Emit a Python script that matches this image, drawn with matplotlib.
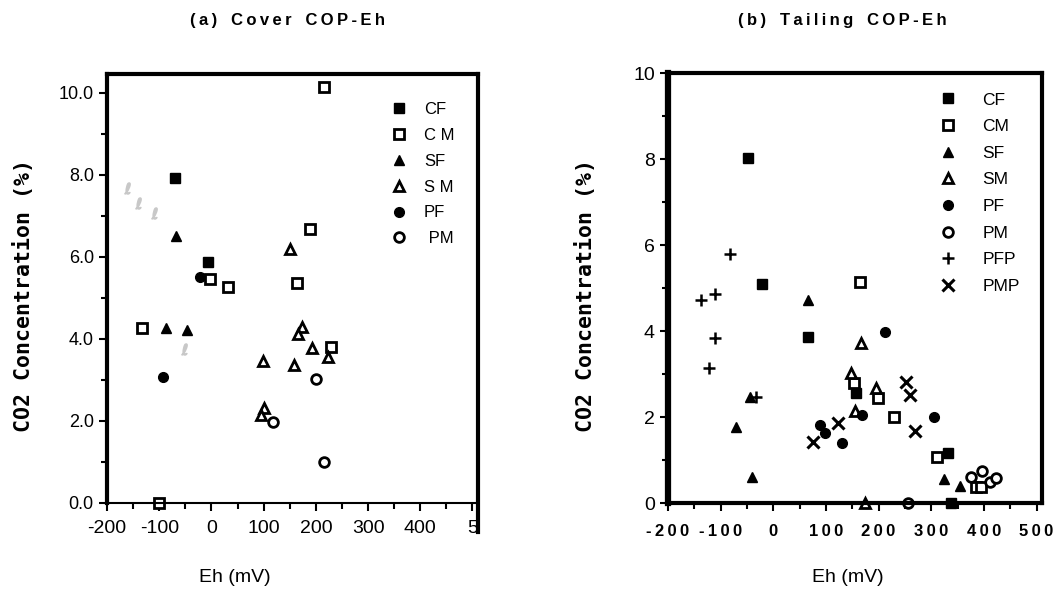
import matplotlib
matplotlib.use("Agg")
import matplotlib.pyplot as plt
from matplotlib.ticker import MultipleLocator, FixedLocator

# ---- panel (a): Cover COP-Eh ----
cf_a_x = [-69, -6]
cf_a_y = [7.93, 5.88]
cm_a_x = [216, 189, -2, 31, 163, -134, 229, -100]
cm_a_y = [10.15, 6.68, 5.46, 5.27, 5.37, 4.27, 3.80, 0.0]
sf_a_x = [-67, -88, -46]
sf_a_y = [6.51, 4.27, 4.22]
sm_a_x = [151, 98, 159, 174, 166, 193, 224, 101, 94]
sm_a_y = [6.20, 3.46, 3.37, 4.29, 4.12, 3.78, 3.56, 2.32, 2.15]
pf_a_x = [-21, -92]
pf_a_y = [5.51, 3.07]
pm_a_x = [201, 117, 216]
pm_a_y = [3.02, 1.98, 1.00]
faint_a_x = [-161, -141, -111, -52]
faint_a_y = [7.68, 7.32, 7.07, 3.76]

# ---- panel (b): Tailing COP-Eh ----
cf_b_x = [-49, -21, 66, 157, 332, 338]
cf_b_y = [8.02, 5.10, 3.86, 2.55, 1.16, 0.0]
cm_b_x = [165, 154, 199, 230, 311, 385, 395]
cm_b_y = [5.14, 2.79, 2.45, 2.00, 1.07, 0.37, 0.37]
sf_b_x = [66, -44, -70, -40, 324, 355]
sf_b_y = [4.72, 2.47, 1.77, 0.60, 0.56, 0.40]
sm_b_x = [167, 148, 195, 155, 175]
sm_b_y = [3.72, 3.02, 2.68, 2.14, 0.0]
pf_b_x = [212, 169, 305, 89, 99, 131]
pf_b_y = [3.98, 2.05, 2.00, 1.81, 1.62, 1.40]
pm_b_x = [376, 397, 412, 423, 256]
pm_b_y = [0.60, 0.74, 0.49, 0.58, 0.0]
pfp_b_x = [-82, -137, -110, -110, -123, -32]
pfp_b_y = [5.79, 4.72, 4.86, 3.84, 3.14, 2.47]
pmp_b_x = [252, 259, 269, 123, 76]
pmp_b_y = [2.82, 2.52, 1.68, 1.86, 1.43]

xticks = [-200, -100, 0, 100, 200, 300, 400, 500]
xlabels_a = ["-200", "-100", "0", "100", "200", "300", "400", "5"]
xlabels_b = ["-200", "-100", "0", "100", "200", "300", "400", "500"]

sans = ["Liberation Sans", "DejaVu Sans"]
mono = ["DejaVu Sans Mono"]
TS = "\u2009"  # thin space used as letter tracking

def tracked(s):
    return TS.join(s)

fig = plt.figure(figsize=(10.62, 5.94), dpi=100)
ax1 = fig.add_axes([0.1008, 0.1532, 0.349, 0.722])
ax2 = fig.add_axes([0.629, 0.153, 0.352, 0.724])

def sq_f(ax, x, y, lab):
    ax.plot(x, y, ls="none", marker="s", ms=7, mfc="black", mec="black", label=lab, clip_on=False)
def sq_o(ax, x, y, lab):
    ax.plot(x, y, ls="none", marker="s", ms=7, mfc="white", mec="black", mew=2, label=lab, clip_on=False)
def tr_f(ax, x, y, lab):
    ax.plot(x, y, ls="none", marker="^", ms=7.5, mfc="black", mec="black", label=lab, clip_on=False)
def tr_o(ax, x, y, lab):
    ax.plot(x, y, ls="none", marker="^", ms=7.5, mfc="white", mec="black", mew=2, label=lab, clip_on=False)
def ci_f(ax, x, y, lab):
    ax.plot(x, y, ls="none", marker="o", ms=7, mfc="black", mec="black", label=lab, clip_on=False)
def ci_o(ax, x, y, lab):
    ax.plot(x, y, ls="none", marker="o", ms=7, mfc="white", mec="black", mew=2, label=lab, clip_on=False)

# panel a
sq_f(ax1, cf_a_x, cf_a_y, "CF")
sq_o(ax1, cm_a_x, cm_a_y, "C M")
tr_f(ax1, sf_a_x, sf_a_y, "SF")
tr_o(ax1, sm_a_x, sm_a_y, "S M")
ci_f(ax1, pf_a_x, pf_a_y, "PF")
ci_o(ax1, pm_a_x, pm_a_y, " PM")
ax1.plot(faint_a_x, faint_a_y, ls="none", marker="$\\ell$", ms=8, color="#c8c8c8", label="_nolegend_")

# panel b
sq_f(ax2, cf_b_x, cf_b_y, "CF")
sq_o(ax2, cm_b_x, cm_b_y, "CM")
tr_f(ax2, sf_b_x, sf_b_y, "SF")
tr_o(ax2, sm_b_x, sm_b_y, "SM")
ci_f(ax2, pf_b_x, pf_b_y, "PF")
ci_o(ax2, pm_b_x, pm_b_y, "PM")
ax2.plot(pfp_b_x, pfp_b_y, ls="none", marker="+", ms=9, mew=1.8, color="black", label="PFP", clip_on=False)
ax2.plot(pmp_b_x, pmp_b_y, ls="none", marker="x", ms=8, mew=2.2, color="black", label="PMP", clip_on=False)

# axes (a)
ax1.set_xlim(-200, 510)
ax1.set_ylim(0, 10.46)
ax1.xaxis.set_major_locator(FixedLocator(xticks))
ax1.set_xticklabels(xlabels_a, family=sans, fontsize=14)
ax1.xaxis.set_minor_locator(MultipleLocator(50))
ax1.yaxis.set_major_locator(FixedLocator([0, 2, 4, 6, 8, 10]))
ax1.set_yticklabels(["0.0", "2.0", "4.0", "6.0", "8.0", "10.0"], family=sans, fontsize=13)
ax1.yaxis.set_minor_locator(MultipleLocator(1))
ax1.tick_params(which="both", direction="out", width=1.5)
ax1.tick_params(which="major", length=6)
ax1.tick_params(which="minor", length=4)
ax1.tick_params(axis="x", pad=6)
for s in ["left", "top", "right"]:
    ax1.spines[s].set_linewidth(3)
ax1.spines["bottom"].set_linewidth(1.5)
ax1.spines["right"].set_bounds(-0.7, 10.46)

# axes (b)
ax2.set_xlim(-200, 510)
ax2.set_ylim(0, 10)
ax2.xaxis.set_major_locator(FixedLocator(xticks))
ax2.set_xticklabels([tracked(t) for t in xlabels_b], family=sans, fontweight="bold", fontsize=12)
ax2.xaxis.set_minor_locator(MultipleLocator(50))
ax2.yaxis.set_major_locator(FixedLocator([0, 2, 4, 6, 8, 10]))
ax2.set_yticklabels(["0", "2", "4", "6", "8", "10"], family=sans, fontsize=14)
ax2.yaxis.set_minor_locator(MultipleLocator(1))
ax2.tick_params(which="both", direction="out", width=1.5)
ax2.tick_params(which="major", length=6)
ax2.tick_params(which="minor", length=4)
ax2.tick_params(axis="x", pad=9)
for s in ["bottom", "top", "right"]:
    ax2.spines[s].set_linewidth(3)
ax2.spines["left"].set_linewidth(4.5)

# legends
ax1.legend(loc="upper left", bbox_to_anchor=(0.765, 0.935), frameon=False,
           borderaxespad=0, borderpad=0, handlelength=1.0, handletextpad=1.0,
           labelspacing=0.65, prop={"family": sans, "size": 12})
ax2.legend(loc="upper left", bbox_to_anchor=(0.727, 0.955), frameon=False,
           borderaxespad=0, borderpad=0, handlelength=1.0, handletextpad=1.45,
           labelspacing=0.66, prop={"family": sans, "size": 12.5})

# titles and axis labels
fig.text(0.271, 0.966, tracked("(a)") + "   " + tracked("Cover") + "   " + tracked("COP-Eh"),
         ha="center", va="center", fontsize=12, fontweight="bold", family=sans)
fig.text(0.793, 0.966, tracked("(b)") + "   " + tracked("Tailing") + "   " + tracked("COP-Eh"),
         ha="center", va="center", fontsize=12, fontweight="bold", family=sans)
fig.text(0.022, 0.503, "CO2 Concentration (%)", rotation=90, ha="center", va="center",
         fontsize=15.5, fontweight="bold", family=mono)
fig.text(0.551, 0.503, "CO2 Concentration (%)", rotation=90, ha="center", va="center",
         fontsize=15.5, fontweight="bold", family=mono)
fig.text(0.221, 0.028, "Eh (mV)", ha="center", va="center", fontsize=14, family=sans)
fig.text(0.798, 0.028, "Eh (mV)", ha="center", va="center", fontsize=14, family=sans)

fig.savefig("out.png", dpi=100)
